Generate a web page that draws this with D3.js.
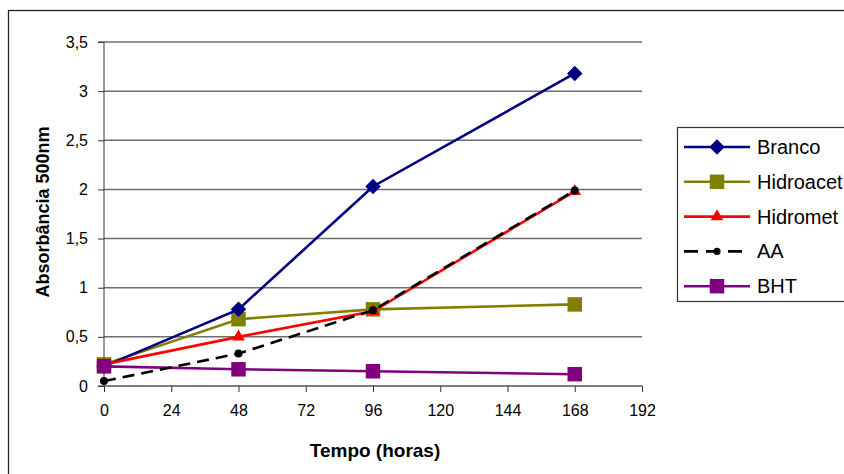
<!DOCTYPE html>
<html><head><meta charset="utf-8">
<script src="https://cdn.jsdelivr.net/npm/d3@7"></script>
<style>body{margin:0;background:#fff;}svg{display:block;font-family:Arial,"Liberation Sans",sans-serif;}</style>
</head><body>
<script>
const hours = [0, 48, 96, 168];
const branco = [0.20, 0.78, 2.03, 3.18];
const hidroacet = [0.22, 0.68, 0.78, 0.83];
const hidromet = [0.22, 0.50, 0.76, 1.98];
const aa = [0.05, 0.33, 0.77, 1.99];
const bht = [0.20, 0.17, 0.15, 0.12];
const xTicks = [0, 24, 48, 72, 96, 120, 144, 168, 192];
const yTicks = [0, 0.5, 1, 1.5, 2, 2.5, 3, 3.5];
const seriesNames = ["Branco", "Hidroacet", "Hidromet", "AA", "BHT"];

const W = 844, H = 474;
const svg = d3.select("body").append("svg").attr("width", W).attr("height", H);
svg.append("rect").attr("x", 8.5).attr("y", 10.5).attr("width", 900).attr("height", 500)
  .attr("fill", "none").attr("stroke", "#222").attr("stroke-width", 1.3);

const x = d3.scaleLinear().domain([0, 192]).range([104, 642]);
const y = d3.scaleLinear().domain([0, 3.5]).range([386, 42]);
const fmt = d => String(d).replace(".", ",");

// gridlines
svg.append("g").selectAll("line").data(yTicks.slice(1)).join("line")
  .attr("x1", x(0)).attr("x2", x(192)).attr("y1", d => y(d)).attr("y2", d => y(d))
  .attr("stroke", "#6e6e6e").attr("stroke-width", 1.5);

// y axis
const ya = svg.append("g").attr("transform", `translate(${x(0)},0)`)
  .call(d3.axisLeft(y).tickValues(yTicks).tickFormat(fmt).tickSize(6).tickPadding(10));
ya.select(".domain").attr("stroke", "#333").attr("d", `M-6,${y(3.5)}H0V${y(0)}H-6`);
ya.selectAll("line").attr("stroke", "#333");
ya.selectAll("text").attr("font-size", 16).attr("fill", "#000").attr("font-family", "Arial, Liberation Sans, sans-serif");

// x axis
const xa = svg.append("g").attr("transform", `translate(0,${y(0)})`)
  .call(d3.axisBottom(x).tickValues(xTicks).tickSize(6).tickPadding(13));
xa.select(".domain").attr("stroke", "#555").attr("stroke-width", 1.5).attr("d", `M${x(0)},0H${x(192)}`);
xa.selectAll("line").attr("stroke", "#333");
xa.selectAll("text").attr("font-size", 16).attr("fill", "#000").attr("font-family", "Arial, Liberation Sans, sans-serif");

svg.append("text").attr("x", 375).attr("y", 457).attr("text-anchor", "middle")
  .attr("font-weight", "bold").attr("font-size", 19).text("Tempo (horas)");
svg.append("text").attr("transform", `translate(49,212) rotate(-90)`).attr("text-anchor", "middle")
  .attr("font-weight", "bold").attr("font-size", 18).text("Absorbância 500nm");

const series = [
  {name: seriesNames[0], vals: branco, color: "#000080", marker: "diamond", dash: null},
  {name: seriesNames[1], vals: hidroacet, color: "#808000", marker: "square", dash: null},
  {name: seriesNames[2], vals: hidromet, color: "#ff0000", marker: "triangle", dash: null},
  {name: seriesNames[3], vals: aa, color: "#000000", marker: "circle", dash: "12,7"},
  {name: seriesNames[4], vals: bht, color: "#800080", marker: "square", dash: null}
];
const symType = {diamond: d3.symbolSquare, square: d3.symbolSquare, triangle: d3.symbolTriangle, circle: d3.symbolCircle};
const symSize = {diamond: 120, square: 210, triangle: 70, circle: 50};
const symRot = {diamond: 45, square: 0, triangle: 0, circle: 0};

const line = d3.line().x(d => x(d[0])).y(d => y(d[1]));
const drawOrder = [1, 0, 2, 4, 3];
drawOrder.forEach(i => {
  const s = series[i];
  const pts = hours.map((h, j) => [h, s.vals[j]]);
  svg.append("path").attr("d", line(pts)).attr("fill", "none").attr("stroke", s.color)
    .attr("stroke-width", 2.6).attr("stroke-dasharray", s.dash);
  svg.append("g").selectAll("path").data(pts).join("path")
    .attr("transform", d => `translate(${x(d[0])},${y(d[1])}) rotate(${symRot[s.marker]})`)
    .attr("d", d3.symbol().type(symType[s.marker]).size(symSize[s.marker]))
    .attr("fill", s.color);
});

// legend
const lg = svg.append("g");
lg.append("rect").attr("x", 677.5).attr("y", 127.5).attr("width", 200).attr("height", 174)
  .attr("fill", "#fff").attr("stroke", "#333").attr("stroke-width", 1.2);
series.forEach((s, i) => {
  const cy = 147 + i * 34.8;
  lg.append("line").attr("x1", 684).attr("x2", 750).attr("y1", cy).attr("y2", cy)
    .attr("stroke", s.color).attr("stroke-width", 2.6).attr("stroke-dasharray", s.dash ? "14,8" : null);
  lg.append("path").attr("transform", `translate(717,${cy}) rotate(${symRot[s.marker]})`)
    .attr("d", d3.symbol().type(symType[s.marker]).size(symSize[s.marker] * (s.marker === "circle" ? 0.8 : 1)))
    .attr("fill", s.color);
  lg.append("text").attr("x", 757).attr("y", cy + 7).attr("font-size", 20).text(s.name);
});
</script>
</body></html>
